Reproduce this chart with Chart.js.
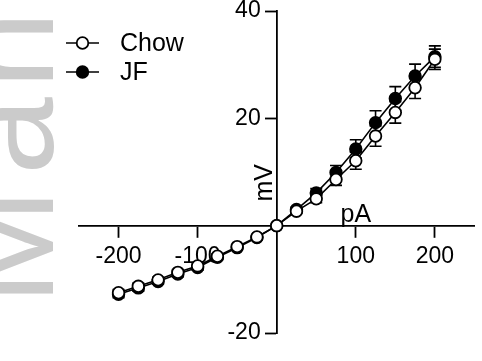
<!DOCTYPE html>
<html>
<head>
<meta charset="utf-8">
<script src="https://cdn.jsdelivr.net/npm/chart.js@4.4.1/dist/chart.umd.min.js"></script>
<style>
  html, body { margin: 0; padding: 0; background: #fff; }
  #wrap { position: relative; width: 482px; height: 361px; }
</style>
</head>
<body>
<div id="wrap"><canvas id="ivChart"></canvas></div>
<script>
// injected current steps (pA)
const currents = [-200, -175, -150, -125, -100, -75, -50, -25, 0, 25, 50, 75, 100, 125, 150, 175, 200];

// voltage response (mV), mean and SEM per group
const chowMv = [-12.5, -11.3, -10.1, -8.7, -7.5, -5.7, -3.9, -2.1, 0, 2.7, 5.0, 8.6, 12.1, 16.7, 21.1, 25.7, 31.0];
const chowSem = [0.6, 0.6, 0.5, 0.5, 0.5, 0.4, 0.3, 0.2, 0, 0.4, 0.7, 1.1, 1.6, 1.9, 2.0, 2.0, 1.9];
const jfMv = [-12.8, -11.6, -10.4, -9.0, -7.8, -5.9, -4.1, -2.2, 0, 3.0, 6.1, 9.9, 14.3, 19.2, 23.7, 27.9, 31.5];
const jfSem = [0.6, 0.6, 0.5, 0.5, 0.5, 0.4, 0.3, 0.2, 0, 0.4, 0.8, 1.3, 1.7, 2.2, 2.2, 2.2, 2.0];

const xTicks = [-200, -100, 100, 200];
const yTicks = [-20, 20, 40];

const FONT = "'Liberation Sans', Arial, sans-serif";

// grey side stamp, set letter by letter (baseline runs up the left edge)
const stampPieces = [
  { text: "M", at: 305 },
  { text: "a", at: 175 },
  { text: "n", at: 89 },
];
const watermark = {
  id: "watermark",
  beforeDraw(chart) {
    const c = chart.ctx;
    c.save();
    c.fillStyle = "#cbcbcb";
    c.font = `140px ${FONT}`;
    c.textAlign = "left";
    c.textBaseline = "alphabetic";
    stampPieces.forEach((p) => {
      c.save();
      c.translate(53, p.at);
      c.rotate(-Math.PI / 2);
      c.fillText(p.text, 0, 0);
      c.restore();
    });
    c.restore();
  },
};

// SEM bars, drawn under each dataset's own line and points
const errorBars = {
  id: "errorBars",
  beforeDatasetDraw(chart, args) {
    const ds = chart.data.datasets[args.index];
    if (!ds.sem) return;
    const xs = chart.scales.x;
    const ys = chart.scales.y;
    const c = chart.ctx;
    c.save();
    c.strokeStyle = "#000";
    c.lineWidth = 1.6;
    ds.data.forEach((p, i) => {
      const e = ds.sem[i];
      if (!e) return;
      const px = xs.getPixelForValue(p.x);
      const top = ys.getPixelForValue(p.y + e);
      const bot = ys.getPixelForValue(p.y - e);
      c.beginPath();
      c.moveTo(px, top);
      c.lineTo(px, bot);
      c.moveTo(px - 6, top);
      c.lineTo(px + 6, top);
      c.moveTo(px - 6, bot);
      c.lineTo(px + 6, bot);
      c.stroke();
    });
    c.restore();
  },
};

// legend with line-through-marker symbols
const sideLegend = {
  id: "sideLegend",
  afterDraw(chart) {
    const c = chart.ctx;
    c.save();
    chart.data.datasets.forEach((ds, i) => {
      const y = 43 + i * 29;
      c.strokeStyle = "#000";
      c.lineWidth = 1.6;
      c.beginPath();
      c.moveTo(66, y);
      c.lineTo(99, y);
      c.stroke();
      c.beginPath();
      c.arc(82.5, y, ds.pointRadius, 0, Math.PI * 2);
      c.fillStyle = ds.pointBackgroundColor;
      c.fill();
      c.lineWidth = ds.pointBorderWidth;
      c.stroke();
      c.fillStyle = "#000";
      c.font = `25px ${FONT}`;
      c.textAlign = "left";
      c.textBaseline = "middle";
      c.fillText(ds.label, 120, y + 1);
    });
    c.restore();
  },
};

// unit names sitting next to the crossing axes
const axisNames = {
  id: "axisNames",
  afterDraw(chart) {
    const c = chart.ctx;
    const xs = chart.scales.x;
    const ys = chart.scales.y;
    const x0 = xs.getPixelForValue(0);
    const y0 = ys.getPixelForValue(0);
    c.save();
    c.fillStyle = "#000";
    c.font = `25px ${FONT}`;
    c.textAlign = "center";
    c.textBaseline = "alphabetic";
    c.fillText("pA", xs.getPixelForValue(100), y0 - 4);
    c.translate(x0 - 5, ys.getPixelForValue(8));
    c.rotate(-Math.PI / 2);
    c.fillText("mV", 0, 0);
    c.restore();
  },
};

function series(label, values, sem, fill) {
  return {
    label: label,
    data: currents.map((x, i) => ({ x: x, y: values[i] })),
    sem: sem,
    showLine: true,
    borderColor: "#000",
    borderWidth: 1.6,
    pointBackgroundColor: fill,
    pointBorderColor: "#000",
    pointBorderWidth: 1.8,
    pointRadius: 5.8,
  };
}

const tickGrid = {
  drawOnChartArea: false,
  drawTicks: true,
  tickLength: 11,
  tickWidth: 1.8,
  tickColor: "#000",
  color: "#000",
};

new Chart(document.getElementById("ivChart"), {
  type: "scatter",
  data: {
    // Chow first so its open markers sit on top
    datasets: [
      series("Chow", chowMv, chowSem, "#fff"),
      series("JF", jfMv, jfSem, "#000"),
    ],
  },
  options: {
    responsive: true,
    maintainAspectRatio: false,
    animation: false,
    layout: { padding: { left: 79, right: 5, top: 11, bottom: 28 } },
    plugins: {
      legend: { display: false },
      tooltip: { enabled: false },
    },
    scales: {
      x: {
        type: "linear",
        position: { y: 0 },
        min: -250,
        max: 250,
        afterBuildTicks: (scale) => {
          scale.ticks = xTicks.map((v) => ({ value: v }));
        },
        grid: tickGrid,
        border: { display: true, color: "#000", width: 1.8 },
        ticks: {
          color: "#000",
          padding: 6,
          maxRotation: 0,
          autoSkip: false,
          font: { family: FONT, size: 23 },
        },
      },
      y: {
        type: "linear",
        position: "center",
        min: -20,
        max: 40,
        afterBuildTicks: (scale) => {
          scale.ticks = yTicks.map((v) => ({ value: v }));
        },
        grid: tickGrid,
        border: { display: true, color: "#000", width: 1.8 },
        ticks: {
          color: "#000",
          padding: 5,
          autoSkip: false,
          font: { family: FONT, size: 23, lineHeight: 0.5 },
        },
      },
    },
  },
  plugins: [watermark, errorBars, sideLegend, axisNames],
});
</script>
</body>
</html>
